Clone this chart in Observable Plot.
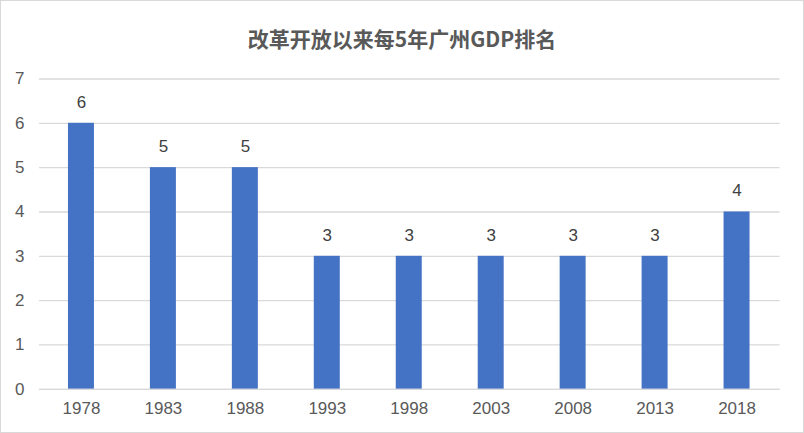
<!DOCTYPE html>
<html>
<head>
<meta charset="utf-8">
<script src="https://cdn.jsdelivr.net/npm/d3@7"></script>
<script src="https://cdn.jsdelivr.net/npm/@observablehq/plot@0.6"></script>
<style>
  html, body { margin: 0; padding: 0; background: #fff; }
  #wrap { position: relative; width: 804px; height: 433px; box-sizing: border-box; border: 1.5px solid #d9d9d9; background: #fff; overflow: hidden; }
  #title { position: absolute; left: 0; width: 100%; text-align: center; font-family: "Noto Sans CJK SC", sans-serif; font-weight: bold; font-size: 21px; color: #595959; line-height: 26px; top: 24px; }
  #chart { position: absolute; left: -1.5px; top: 57.5px; }
</style>
</head>
<body>
<div id="wrap">
  <div id="title">改革开放以来每5年广州GDP排名</div>
  <div id="chart"></div>
</div>
<script>
const years = ["1978", "1983", "1988", "1993", "1998", "2003", "2008", "2013", "2018"];
const ranks = [6, 5, 5, 3, 3, 3, 3, 3, 4];
const yTicks = [0, 1, 2, 3, 4, 5, 6, 7];

const data = years.map((y, i) => ({year: y, rank: ranks[i]}));

const chart = Plot.plot({
  width: 804,
  height: 374,
  marginTop: 19.5,
  marginBottom: 44,
  marginLeft: 39,
  marginRight: 24,
  style: {fontFamily: "'Liberation Sans', Arial, sans-serif", fontSize: "17px", color: "#595959", background: "transparent"},
  x: {domain: years, paddingInner: 0.68, paddingOuter: 0.34, label: null},
  y: {domain: [0, 7], label: null},
  marks: [
    Plot.ruleY(yTicks, {stroke: "#d9d9d9", strokeWidth: 1.3}),
    Plot.barY(data, {x: "year", y: "rank", fill: "#4472C4"}),
    Plot.ruleY([0], {stroke: "#d9d9d9", strokeWidth: 1.3}),
    Plot.text(data, {x: "year", y: "rank", text: d => String(d.rank), dy: -21, fill: "#404040", fontSize: 17}),
    Plot.axisY({ticks: yTicks, tickSize: 0, tickPadding: 15, tickFormat: d => String(d), label: null, fill: "#595959"}),
    Plot.axisX({tickSize: 0, tickPadding: 13, label: null, fill: "#595959"})
  ]
});
document.getElementById("chart").appendChild(chart);
</script>
</body>
</html>
